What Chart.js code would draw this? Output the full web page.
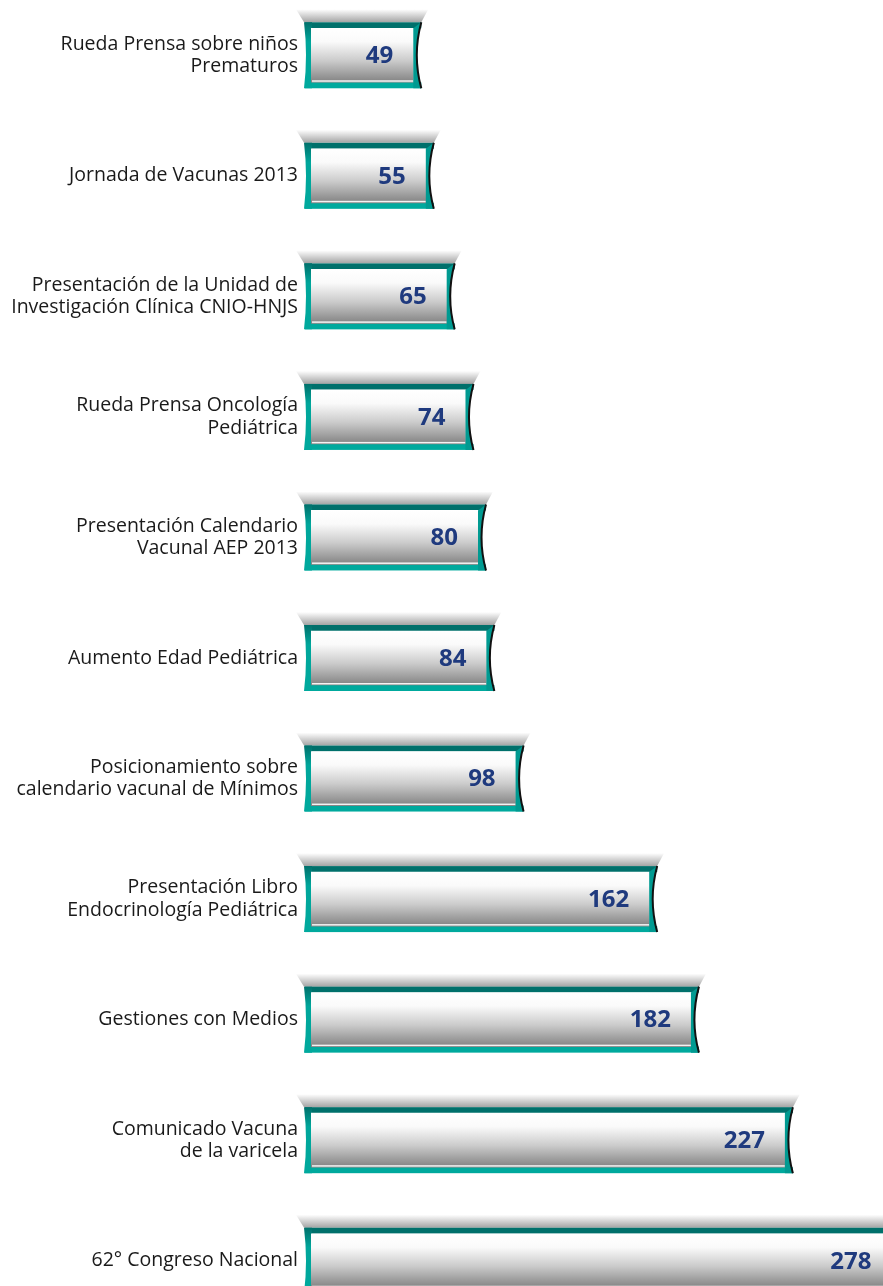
<!DOCTYPE html>
<html>
<head>
<meta charset="utf-8">
<script src="https://cdn.jsdelivr.net/npm/chart.js@4.4.0/dist/chart.umd.min.js"></script>
<style>
  html, body { margin: 0; padding: 0; background: #fff; overflow: hidden; }
  #caja { position: absolute; left: 0; top: -5px; width: 883px; height: 1326px; }
</style>
</head>
<body>
<div id="caja"><canvas id="myChart"></canvas></div>
<script>
// datos del grafico
var categorias = [
  ['Rueda Prensa sobre niños', 'Prematuros'],
  'Jornada de Vacunas 2013',
  ['Presentación de la Unidad de', 'Investigación Clínica CNIO-HNJS'],
  ['Rueda Prensa Oncología', 'Pediátrica'],
  ['Presentación Calendario', 'Vacunal AEP 2013'],
  'Aumento Edad Pediátrica',
  ['Posicionamiento sobre', 'calendario vacunal de Mínimos'],
  ['Presentación Libro', 'Endocrinología Pediátrica'],
  'Gestiones con Medios',
  ['Comunicado Vacuna', 'de la varicela'],
  '62° Congreso Nacional'
];
var valores = [49, 55, 65, 74, 80, 84, 98, 162, 182, 227, 278];
var ejeMax = 274; // la ultima barra sale del cuadro

// degradado del frente de cada barra
function frente(ctx) {
  var chart = ctx.chart;
  var y = chart.scales.y ? chart.scales.y.getPixelForValue(ctx.dataIndex) : NaN;
  if (!isFinite(y)) return '#cccccc';
  var g = chart.ctx.createLinearGradient(0, y - 27, 0, y + 27);
  g.addColorStop(0, '#ffffff');
  g.addColorStop(0.25, '#fafafa');
  g.addColorStop(0.6, '#cbcbcb');
  g.addColorStop(1, '#828282');
  return g;
}

// dibuja sombra, bandas verdes, extremos y numeros
var tubo = {
  id: 'tubo',
  beforeDatasetsDraw: function (chart) {
    var c = chart.ctx;
    chart.getDatasetMeta(0).data.forEach(function (bar) {
      var b = bar.base, e = bar.x, y = bar.y;
      c.save();
      // sombra de arriba
      var g = c.createLinearGradient(0, y - 46, 0, y - 33);
      g.addColorStop(0, 'rgba(255,255,255,1)');
      g.addColorStop(1, '#a4a4a4');
      c.fillStyle = g;
      c.beginPath();
      c.moveTo(b - 15, y - 46);
      c.lineTo(e + 15, y - 46);
      c.lineTo(e + 8, y - 33);
      c.lineTo(b - 7, y - 33);
      c.closePath();
      c.fill();
      // banda superior oscura
      c.fillStyle = '#00706b';
      c.fillRect(b - 6, y - 33, e - b + 14, 6);
      // banda inferior
      c.fillStyle = '#00a99d';
      c.fillRect(b - 6, y + 27, e - b + 14, 6);
      // extremo izquierdo
      var g2 = c.createLinearGradient(0, y - 33, 0, y + 33);
      g2.addColorStop(0, '#00706b');
      g2.addColorStop(0.3, '#00a69b');
      g2.addColorStop(1, '#00a99d');
      c.fillStyle = g2;
      c.beginPath();
      c.moveTo(b - 7, y - 33);
      c.quadraticCurveTo(b - 3, y, b - 7, y + 33);
      c.lineTo(b + 1, y + 33);
      c.lineTo(b + 1, y - 33);
      c.closePath();
      c.fill();
      c.restore();
    });
  },
  afterDatasetsDraw: function (chart) {
    var c = chart.ctx;
    var ds = chart.data.datasets[0];
    chart.getDatasetMeta(0).data.forEach(function (bar, i) {
      var b = bar.base, e = bar.x, y = bar.y;
      c.save();
      // linea blanca abajo del frente
      c.fillStyle = 'rgba(255,255,255,0.9)';
      c.fillRect(b + 1, y + 25, e - b - 1, 1.5);
      // extremo derecho
      c.fillStyle = '#009a91';
      c.beginPath();
      c.moveTo(e, y - 27);
      c.lineTo(e + 8, y - 33);
      c.quadraticCurveTo(e - 1, y, e + 8, y + 33);
      c.lineTo(e, y + 33);
      c.closePath();
      c.fill();
      c.strokeStyle = '#111';
      c.lineWidth = 2;
      c.beginPath();
      c.moveTo(e + 8, y - 33);
      c.quadraticCurveTo(e - 1, y, e + 8, y + 33);
      c.stroke();
      // numero
      c.fillStyle = '#1f3a7e';
      c.font = 'bold 24px "Open Sans"';
      c.textAlign = 'right';
      c.textBaseline = 'middle';
      c.fillText(String(ds.data[i]), e - 20, y + 1);
      c.restore();
    });
  }
};

var ctx = document.getElementById('myChart').getContext('2d');
var chart = new Chart(ctx, {
  type: 'bar',
  data: {
    labels: categorias,
    datasets: [{
      data: valores,
      backgroundColor: frente,
      borderWidth: 0,
      barThickness: 54
    }]
  },
  options: {
    indexAxis: 'y',
    responsive: true,
    maintainAspectRatio: false,
    animation: false,
    layout: { padding: 0 },
    plugins: {
      legend: { display: false },
      tooltip: { enabled: false }
    },
    scales: {
      x: { display: false, min: 0, max: ejeMax },
      y: {
        grid: { display: false, drawTicks: false },
        border: { display: false },
        ticks: {
          color: '#1a1a1a',
          padding: 13,
          font: { family: 'Open Sans', size: 19.5, lineHeight: 1.15 }
        },
        afterFit: function (s) {
          s.width = 311;
          s.paddingTop = 0;
          s.paddingBottom = 0;
        }
      }
    }
  },
  plugins: [tubo]
});
</script>
</body>
</html>
